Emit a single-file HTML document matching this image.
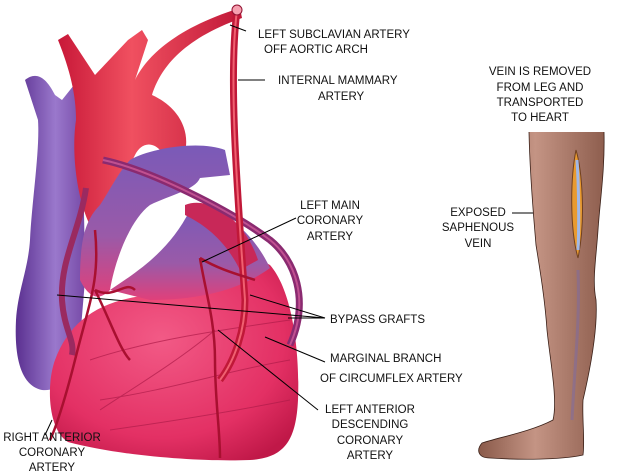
<!DOCTYPE html>
<html><head><meta charset="utf-8"><style>
body{margin:0;background:#fff;width:620px;height:476px;overflow:hidden}
svg{display:block}
text{font-family:"Liberation Sans",sans-serif;font-size:11.5px;fill:#111}
</style></head><body>
<svg width="620" height="476" viewBox="0 0 620 476">
<defs>
<radialGradient id="hg" cx="0.45" cy="0.4" r="0.7"><stop offset="0" stop-color="#f25a86"/><stop offset="0.7" stop-color="#e33064"/><stop offset="1" stop-color="#c01848"/></radialGradient>
<linearGradient id="pg" x1="0" x2="1"><stop offset="0" stop-color="#5a3090"/><stop offset="0.5" stop-color="#9a78cc"/><stop offset="1" stop-color="#6a3a9a"/></linearGradient>
<linearGradient id="pp" x1="0" x2="0" y1="0" y2="1"><stop offset="0" stop-color="#7a5ab8"/><stop offset="0.6" stop-color="#9a5aa8"/><stop offset="1" stop-color="#e0407a"/></linearGradient>
<linearGradient id="rg" x1="0" x2="1"><stop offset="0" stop-color="#c81838"/><stop offset="0.4" stop-color="#f05060"/><stop offset="1" stop-color="#c01838"/></linearGradient>
<linearGradient id="lg" x1="0" x2="1"><stop offset="0" stop-color="#8a5a4a"/><stop offset="0.45" stop-color="#c49484"/><stop offset="1" stop-color="#8e5e4e"/></linearGradient>
</defs>
<!-- vena cava purple -->
<path d="M25 80 C35 72 45 75 55 95 L62 100 L82 75 L95 85 L85 125 C82 180 85 230 85 280 L80 340 C75 375 60 392 42 390 C22 386 14 360 16 320 C18 290 28 270 30 240 C32 200 40 150 38 120 Z" fill="url(#pg)"/>
<!-- aorta -->
<path d="M58 40 L68 34 L95 75 L128 40 L142 30 L148 40 L135 80 C145 60 170 30 240 8 L242 18 C180 40 160 70 152 95 C185 110 192 140 182 160 L160 150 C150 140 140 145 135 155 L120 185 L100 240 C80 220 70 160 76 120 C76 95 70 70 58 40 Z" fill="url(#rg)"/>
<!-- pulmonary / purple body -->
<path d="M130 160 C150 148 200 140 225 150 L230 175 L200 178 C195 190 170 195 150 205 C130 220 115 260 110 290 C100 300 90 300 80 280 C80 240 85 220 100 205 C110 190 120 170 130 160 Z" fill="url(#pp)"/>
<!-- heart body -->
<path d="M55 360 C70 320 100 300 150 295 C190 292 230 240 270 265 C292 290 300 350 298 400 C296 440 285 458 250 460 C200 462 120 456 68 442 C48 430 46 385 55 360 Z" fill="url(#hg)"/>
<path d="M110 290 C140 270 170 250 190 210 C210 200 250 225 270 268 C240 290 200 300 150 300 Z" fill="url(#pp)"/>
<path d="M185 205 C210 195 245 220 258 260 L240 270 C225 240 205 225 185 215 Z" fill="#c82858"/>
<!-- texture lines -->
<g stroke="#b01c4a" stroke-width="1" fill="none" opacity="0.7">
<path d="M90 360 C150 340 220 330 290 320"/>
<path d="M100 400 C170 390 230 370 290 360"/>
<path d="M110 430 C180 420 240 410 290 400"/>
<path d="M100 410 C130 390 180 360 215 330"/>
</g>
<!-- grafts -->
<path d="M103 160 C150 170 230 210 270 240 C295 260 310 300 290 345" stroke="#8a2a70" stroke-width="7" fill="none"/>
<path d="M103 160 C150 170 230 210 270 240 C295 260 310 300 290 345" stroke="#c05090" stroke-width="2" fill="none"/>
<path d="M86 188 C80 230 60 260 62 300 C64 330 75 340 72 355" stroke="#9a2a60" stroke-width="6" fill="none"/>
<!-- mammary artery -->
<path d="M237 10 C228 80 238 200 245 300 C245 330 235 360 220 380" stroke="#c01838" stroke-width="7" fill="none"/>
<path d="M237 10 C228 80 238 200 245 300 C245 330 235 360 220 380" stroke="#f06070" stroke-width="2" fill="none"/>
<ellipse cx="237" cy="10" rx="5" ry="5" fill="#f6a0b0" stroke="#901030"/>
<!-- coronary branches -->
<g stroke="#a81030" stroke-width="2.5" fill="none">
<path d="M200 258 C205 290 215 320 215 360 C215 400 220 430 220 458"/>
<path d="M200 258 C220 270 240 275 255 280"/>
<path d="M95 230 C100 280 90 300 75 360 C65 400 55 430 50 440"/>
<path d="M95 290 C110 320 120 350 130 360"/>
<path d="M95 290 C115 300 125 280 135 290"/>
</g>
<!-- leader lines -->
<g stroke="#000" stroke-width="1">
<line x1="230" y1="25" x2="246" y2="31"/>
<line x1="238" y1="80" x2="265" y2="80"/>
<line x1="202" y1="262" x2="296" y2="218"/>
<line x1="57" y1="295" x2="325" y2="318"/>
<line x1="250" y1="295" x2="325" y2="318"/>
<line x1="288" y1="318" x2="325" y2="318"/>
<line x1="265" y1="337" x2="325" y2="362"/>
<line x1="218" y1="330" x2="318" y2="410"/>
<line x1="52" y1="420" x2="45" y2="435"/>
<line x1="512" y1="213" x2="570" y2="213"/>
</g>
<!-- leg -->
<path d="M529 132 L604 132 C605 170 600 200 598 230 C596 260 592 280 596 300 C598 330 590 370 583 400 C582 420 585 440 583 455 C560 460 520 460 490 458 C478 458 476 450 482 443 C500 437 530 432 553 420 C558 400 550 360 547 330 C545 300 540 270 536 245 C534 220 530 180 529 132 Z" fill="url(#lg)"/>
<path d="M529 132 C530 180 534 220 536 245 C540 270 545 300 547 330 C550 360 558 400 553 420 C530 432 500 437 482 443 C476 450 478 458 490 458 C520 460 560 460 583 455 C585 440 582 420 583 400 C590 370 598 330 596 300 C592 280 596 260 598 230 C600 200 605 170 604 132" fill="none" stroke="#3a2018" stroke-width="0.8"/>
<path d="M576 150 C582 170 586 220 578 258 C570 230 570 180 576 150Z" fill="#e89a30" stroke="#704020"/>
<path d="M577 160 C579 190 579 230 578 250" stroke="#a0b8e8" stroke-width="3" fill="none"/>
<path d="M578 270 C580 320 575 360 572 420" stroke="#7a6aa8" stroke-width="3" fill="none" opacity="0.5"/>
<text x="258" y="38">LEFT SUBCLAVIAN ARTERY</text>
<text x="264" y="53">OFF AORTIC ARCH</text>
<text x="278" y="84">INTERNAL MAMMARY</text>
<text x="318" y="100">ARTERY</text>
<text x="330" y="209" text-anchor="middle">LEFT MAIN</text>
<text x="330" y="224" text-anchor="middle">CORONARY</text>
<text x="330" y="240" text-anchor="middle">ARTERY</text>
<text x="330" y="323">BYPASS GRAFTS</text>
<text x="330" y="362">MARGINAL BRANCH</text>
<text x="320" y="382">OF CIRCUMFLEX ARTERY</text>
<text x="370" y="413" text-anchor="middle">LEFT ANTERIOR</text>
<text x="370" y="428" text-anchor="middle">DESCENDING</text>
<text x="370" y="444" text-anchor="middle">CORONARY</text>
<text x="370" y="459" text-anchor="middle">ARTERY</text>
<text x="52" y="441" text-anchor="middle">RIGHT ANTERIOR</text>
<text x="52" y="456" text-anchor="middle">CORONARY</text>
<text x="52" y="471" text-anchor="middle">ARTERY</text>
<text x="540" y="75" text-anchor="middle">VEIN IS REMOVED</text>
<text x="540" y="91" text-anchor="middle">FROM LEG AND</text>
<text x="540" y="106" text-anchor="middle">TRANSPORTED</text>
<text x="540" y="121" text-anchor="middle">TO HEART</text>
<text x="478" y="216" text-anchor="middle">EXPOSED</text>
<text x="478" y="231" text-anchor="middle">SAPHENOUS</text>
<text x="478" y="247" text-anchor="middle">VEIN</text>
</svg>
</body></html>
